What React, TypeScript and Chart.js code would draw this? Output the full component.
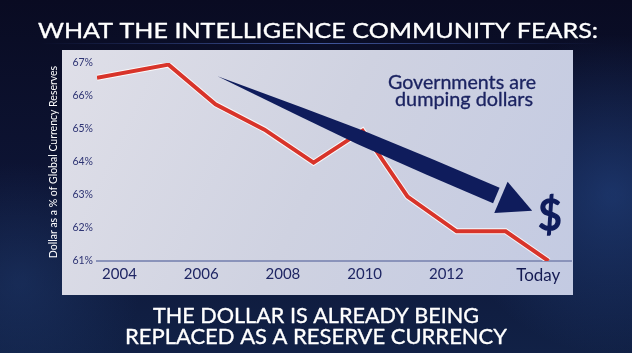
import React, { useEffect, useRef } from 'react';
import { Chart, registerables } from 'chart.js';

Chart.register(...registerables);

// ---- data ----
const pointYears = [2003.45, 2005.2, 2006.35, 2007.55, 2008.75, 2009.95, 2011.05, 2012.25, 2013.45, 2014.5];
const dollarShare = [66.55, 66.95, 65.75, 64.98, 63.98, 64.95, 62.95, 61.9, 61.9, 61.0];
const xTickValues = [2004, 2006, 2008, 2010, 2012, 2014.25];
const xTickLabels = ['2004', '2006', '2008', '2010', '2012', 'Today'];
const yMin = 61;
const yMax = 67;
const arrowTail = { x: 2006.4, y: 66.6 };
const arrowTip = { x: 2014.1, y: 62.52 };
const headline = 'WHAT THE INTELLIGENCE COMMUNITY FEARS:';
const captionLines = ['THE DOLLAR IS ALREADY BEING', 'REPLACED AS A RESERVE CURRENCY'];
const noteLines = ['Governments are', 'dumping dollars'];
const yAxisTitle = 'Dollar as a % of Global Currency Reserves';

const FONT = 'Lato, "Open Sans", "DejaVu Sans", sans-serif';
const NAVY = '#0f1c5c';

function fitText(ctx: CanvasRenderingContext2D, text: string, cx: number, baseline: number, width: number, stroke = 0) {
  const w = ctx.measureText(text).width;
  ctx.save();
  ctx.translate(cx, baseline);
  ctx.scale(width / w, 1);
  ctx.textAlign = 'center';
  ctx.textBaseline = 'alphabetic';
  ctx.fillText(text, 0, 0);
  if (stroke > 0) {
    ctx.strokeStyle = ctx.fillStyle as string;
    ctx.lineWidth = stroke;
    ctx.lineJoin = 'round';
    ctx.strokeText(text, 0, 0);
  }
  ctx.restore();
}

export default function App() {
  const ref = useRef<HTMLCanvasElement>(null);

  useEffect(() => {
    document.body.style.margin = '0';
    const canvas = ref.current!;

    const background = {
      id: 'background',
      beforeDraw(chart: any) {
        const ctx = chart.ctx as CanvasRenderingContext2D;
        const W = chart.width, H = chart.height;
        ctx.save();
        const g = ctx.createLinearGradient(0, 0, 0, H);
        g.addColorStop(0, '#090b22');
        g.addColorStop(0.5, '#0d1434');
        g.addColorStop(1, '#112146');
        ctx.fillStyle = g;
        ctx.fillRect(0, 0, W, H);
        const r = ctx.createRadialGradient(W - 20, H * 0.55, 5, W - 20, H * 0.55, 160);
        r.addColorStop(0, 'rgba(40,80,150,0.5)');
        r.addColorStop(1, 'rgba(40,80,150,0)');
        ctx.fillStyle = r;
        ctx.fillRect(0, 0, W, H);
        const r2 = ctx.createRadialGradient(20, H * 0.8, 5, 20, H * 0.8, 120);
        r2.addColorStop(0, 'rgba(35,65,120,0.4)');
        r2.addColorStop(1, 'rgba(35,65,120,0)');
        ctx.fillStyle = r2;
        ctx.fillRect(0, 0, W, H);
        const lg = ctx.createLinearGradient(40, 0, 600, 0);
        lg.addColorStop(0, 'rgba(70,100,190,0)');
        lg.addColorStop(0.5, 'rgba(90,120,210,0.7)');
        lg.addColorStop(1, 'rgba(70,100,190,0)');
        ctx.fillStyle = lg;
        ctx.fillRect(40, 43, 560, 1);
        const pg = ctx.createLinearGradient(62, 50, 573, 295);
        pg.addColorStop(0, '#dfdfe8');
        pg.addColorStop(0.5, '#cfd2e1');
        pg.addColorStop(1, '#c3cae2');
        ctx.fillStyle = pg;
        ctx.fillRect(62, 50, 511, 245);
        ctx.restore();
      },
    };

    const decorations = {
      id: 'decorations',
      afterDatasetsDraw(chart: any) {
        const ctx = chart.ctx as CanvasRenderingContext2D;
        const xs = chart.scales.x, ys = chart.scales.y;
        const p0 = { x: xs.getPixelForValue(arrowTail.x), y: ys.getPixelForValue(arrowTail.y) };
        const p1 = { x: xs.getPixelForValue(arrowTip.x), y: ys.getPixelForValue(arrowTip.y) };
        const dx = p1.x - p0.x, dy = p1.y - p0.y;
        const L = Math.hypot(dx, dy);
        const ux = dx / L, uy = dy / L, nx = -uy, ny = ux;
        const headLen = 34, headHalf = 17, gap = 5;
        const shaftEnd = L - headLen - gap;
        const at = (s: number, h: number) => [p0.x + ux * s + nx * h, p0.y + uy * s + ny * h];
        const profile: [number, number][] = [[0, 0], [90, 4.6], [155, 7.3], [231, 8.3], [shaftEnd, 8.3]];
        ctx.save();
        ctx.fillStyle = NAVY;
        ctx.beginPath();
        profile.forEach(([s, h], i) => {
          const [x, y] = at(s, -h);
          if (i === 0) ctx.moveTo(x, y); else ctx.lineTo(x, y);
        });
        for (let i = profile.length - 1; i >= 0; i--) {
          const [s, h] = profile[i];
          const [x, y] = at(s, h);
          ctx.lineTo(x, y);
        }
        ctx.closePath();
        ctx.fill();
        const base = L - headLen;
        ctx.beginPath();
        const [ax, ay] = at(base, -headHalf);
        const [bx, by] = at(base, headHalf);
        ctx.moveTo(ax, ay);
        ctx.lineTo(p1.x, p1.y);
        ctx.lineTo(bx, by);
        ctx.closePath();
        ctx.fill();
        ctx.restore();
      },
      afterDraw(chart: any) {
        const ctx = chart.ctx as CanvasRenderingContext2D;
        ctx.save();
        ctx.fillStyle = '#ffffff';
        ctx.font = `22px ${FONT}`;
        fitText(ctx, headline, 318, 38, 560, 0.35);
        fitText(ctx, captionLines[0], 316, 323, 326, 0.35);
        fitText(ctx, captionLines[1], 316, 344, 382, 0.35);
        ctx.fillStyle = '#1c2462';
        ctx.font = `19px ${FONT}`;
        fitText(ctx, noteLines[0], 462, 89, 148, 0.3);
        fitText(ctx, noteLines[1], 464, 106, 138, 0.3);
        ctx.fillStyle = NAVY;
        ctx.font = `42px ${FONT}`;
        ctx.textAlign = 'center';
        ctx.textBaseline = 'alphabetic';
        ctx.strokeStyle = NAVY;
        ctx.lineWidth = 1.6;
        ctx.fillText('$', 550, 230);
        ctx.strokeText('$', 550, 230);
        ctx.restore();
      },
    };

    const points = pointYears.map((x, i) => ({ x, y: dollarShare[i] }));

    const chart = new Chart(canvas, {
      type: 'line',
      data: {
        datasets: [
          {
            data: points,
            borderColor: '#d8342a',
            borderWidth: 4,
            pointRadius: 0,
            tension: 0,
            borderJoinStyle: 'miter',
            order: 1,
          },
          {
            data: points,
            borderColor: 'rgba(255,255,255,0.85)',
            borderWidth: 6,
            pointRadius: 0,
            tension: 0,
            borderJoinStyle: 'miter',
            order: 2,
          },
        ],
      },
      options: {
        animation: false,
        responsive: false,
        layout: { padding: { left: 0, right: 61, top: 63, bottom: 0 } },
        plugins: { legend: { display: false }, tooltip: { enabled: false }, title: { display: false } },
        scales: {
          x: {
            type: 'linear',
            min: 2003.45,
            max: 2015.05,
            afterBuildTicks: (s: any) => {
              s.ticks = xTickValues.map((v) => ({ value: v }));
            },
            afterFit: (s: any) => {
              s.height = 92;
            },
            ticks: {
              autoSkip: false,
              maxRotation: 0,
              padding: 4,
              callback: (_v: any, i: number) => xTickLabels[i],
              font: (c: any) => (c.index === xTickLabels.length - 1
                ? { family: FONT, size: 17 }
                : { family: FONT, size: 15 }),
              color: (c: any) => (c.index === xTickLabels.length - 1 ? '#141a52' : '#1f2664'),
            },
            grid: { display: false, drawTicks: false },
            border: { display: true, color: '#8a93ba', width: 2 },
          },
          y: {
            min: yMin,
            max: yMax,
            afterFit: (s: any) => {
              s.width = 97;
            },
            ticks: {
              stepSize: 1,
              padding: 4,
              callback: (v: any) => `${v}%`,
              font: { family: FONT, size: 10.5 },
              color: '#2d3373',
            },
            grid: { display: false, drawTicks: false },
            border: { display: false },
            title: {
              display: true,
              text: yAxisTitle,
              color: '#ffffff',
              font: { family: FONT, size: 10.5 },
              padding: { top: 47, bottom: 0 },
            },
          },
        },
      },
      plugins: [background, decorations],
    } as any);

    return () => chart.destroy();
  }, []);

  return (
    <div style={{ position: 'fixed', left: 0, top: 0, width: 632, height: 353 }}>
      <canvas ref={ref} width={632} height={353} style={{ display: 'block', width: 632, height: 353 }} />
    </div>
  );
}
